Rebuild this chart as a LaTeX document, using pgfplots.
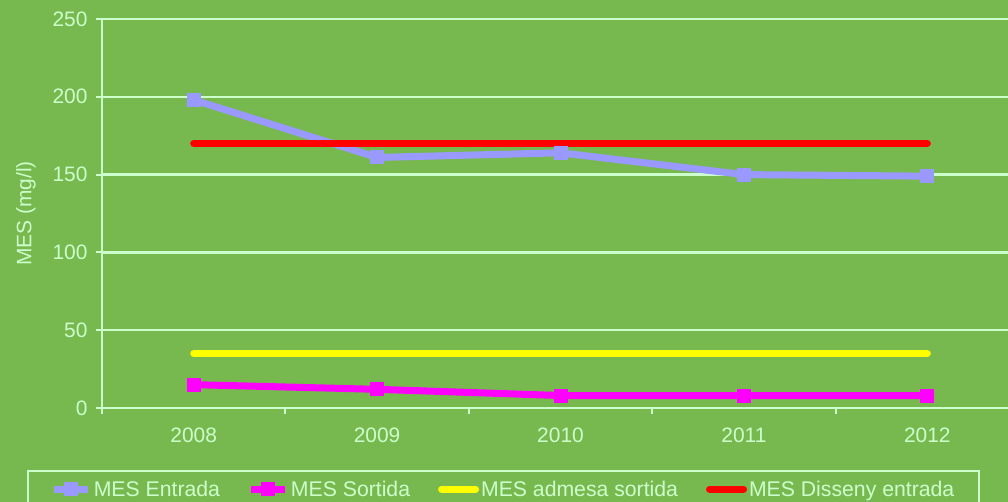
\documentclass[border=0pt]{standalone}
\usepackage{fontspec}
\setmainfont{Liberation Sans}
\usepackage{pgfplots}
\pgfplotsset{compat=1.18}
\definecolor{bg}{HTML}{77B94F}
\definecolor{txt}{HTML}{CCFFCC}
\definecolor{entrada}{HTML}{9999FF}
\definecolor{sortida}{HTML}{FF00FF}
\definecolor{admesa}{HTML}{FFFF00}
\definecolor{disseny}{HTML}{FF0000}

\begin{document}
\begin{tikzpicture}[x=1bp,y=1bp]
\fill[bg] (0,0) rectangle (1008,502);
\path[use as bounding box] (0,0) rectangle (1008,502);
\begin{axis}[
  at={(102bp,94bp)}, anchor=south west,
  scale only axis, width=917bp, height=389bp,
  xmin=-0.5, xmax=4.5, ymin=0, ymax=250,
  axis lines=left, axis line style={txt, line width=2.5bp, -},
  ymajorgrids, grid style={txt, line width=2.5bp},
  ytick={0,50,...,250},
  xtick={-0.5,0.5,1.5,2.5,3.5,4.5},
  x tick label as interval,
  xticklabels={2008,2009,2010,2011,2012},
  tick align=outside, major tick length=6bp,
  tick style={txt, line width=2bp},
  /pgf/number format/assume math mode=true,
  ticklabel style={font=\fontsize{21}{25}\selectfont, text=txt},
  yticklabel style={xshift=-5bp},
  xticklabel style={yshift=-10bp},
  ylabel={MES (mg/l)},
  ylabel style={font=\fontsize{21}{25}\selectfont, text=txt, yshift=10bp},
  legend columns=4,
  legend style={at={(axis description cs:-0.082,-0.159)}, anchor=north west,
    draw=txt, line width=2bp, fill=none, text=txt,
    font=\fontsize{21.3}{25}\selectfont, inner xsep=23bp, inner ysep=8bp,
    /tikz/every odd column/.append style={column sep=0bp},
    /tikz/every even column/.append style={column sep=26bp}},
  legend image code/.code={\draw[mark repeat=2,mark phase=2,#1]
    plot coordinates {(0bp,0bp) (17bp,0bp) (34bp,0bp)};},
]
\addplot[entrada, line width=7bp, mark=square*, mark size=6.5bp,
  mark options={line width=0pt}]
  coordinates {(0,198) (1,161) (2,164) (3,150) (4,149)};
\addlegendentry{MES Entrada}
\addplot[sortida, line width=7bp, mark=square*, mark size=6.5bp,
  mark options={line width=0pt}]
  coordinates {(0,15) (1,12) (2,8) (3,8) (4,8)};
\addlegendentry{MES Sortida}
\addplot[admesa, line width=7bp, line cap=round]
  coordinates {(0,35) (1,35) (2,35) (3,35) (4,35)};
\addlegendentry{MES admesa sortida}
\addplot[disseny, line width=7bp, line cap=round]
  coordinates {(0,170) (1,170) (2,170) (3,170) (4,170)};
\addlegendentry{MES Disseny entrada}
\end{axis}
\end{tikzpicture}
\end{document}
